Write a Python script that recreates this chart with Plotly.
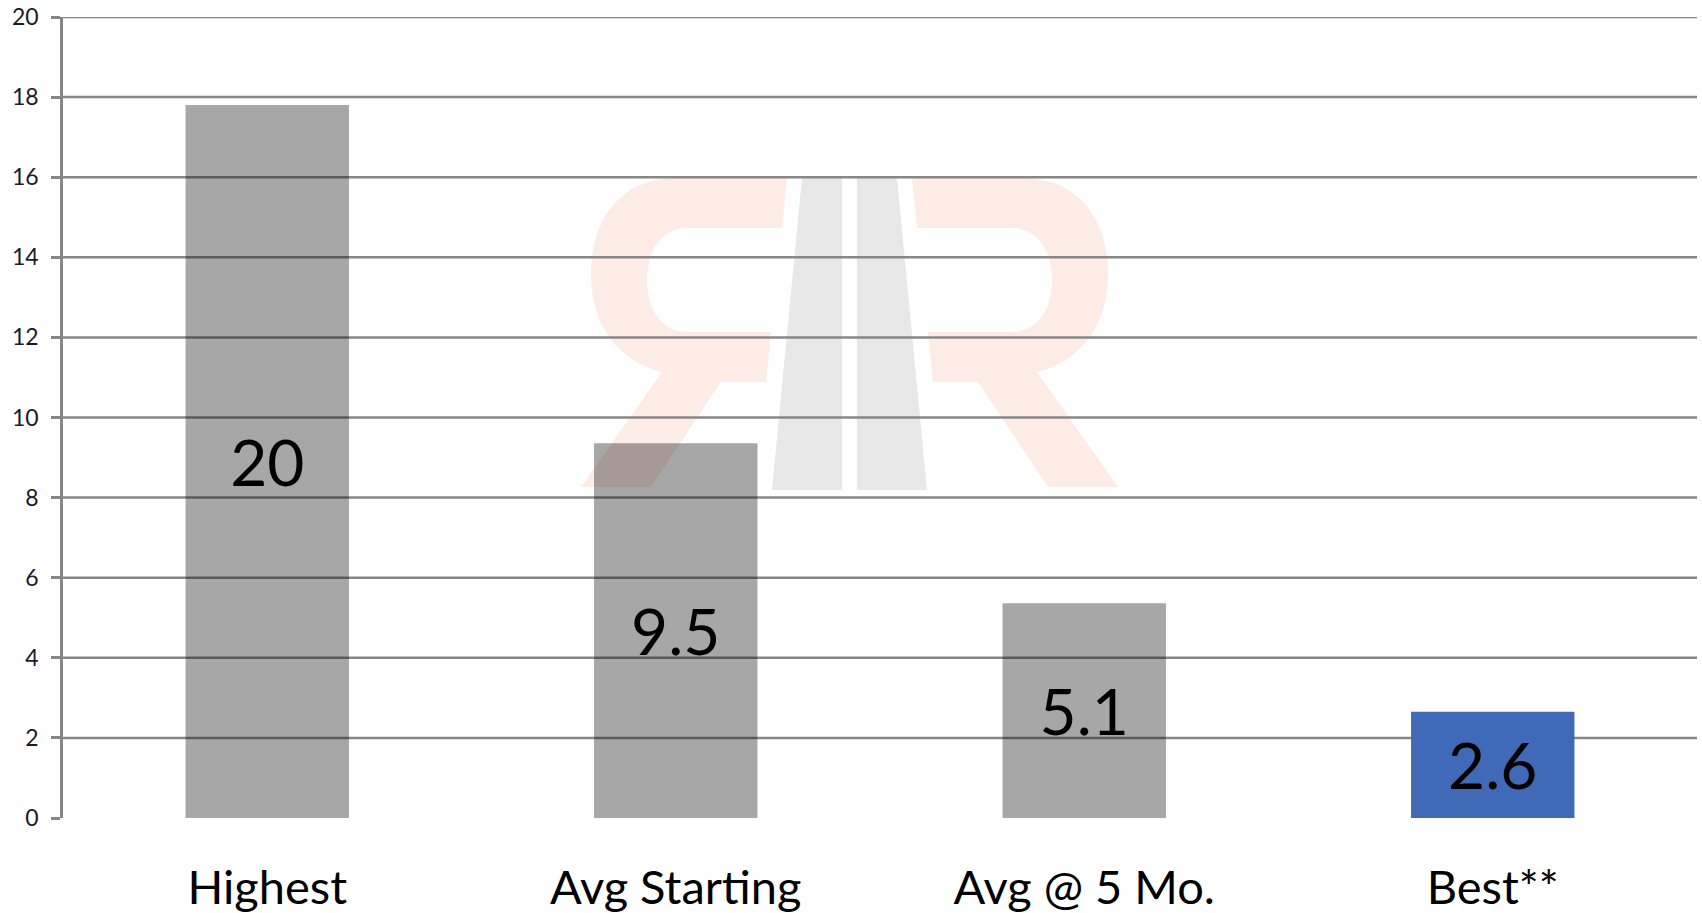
import plotly.graph_objects as go

categories = ["Highest", "Avg Starting", "Avg @ 5 Mo.", "Best**"]
bar_values = [17.8, 9.36, 5.36, 2.65]
bar_labels = ["20", "9.5", "5.1", "2.6"]
bar_colors = ["rgba(10,10,10,0.36)", "rgba(10,10,10,0.36)", "rgba(10,10,10,0.36)", "#4069b8"]
y_ticks = [0, 2, 4, 6, 8, 10, 12, 14, 16, 18, 20]

W, H = 1702, 913
ML, MR, MT, MB = 63, 5, 17, 95
PW, PH = W - ML - MR, H - MT - MB


def px_path(cmds):
    """Convert a path given in page pixels to paper coordinates."""
    out = []
    for c in cmds:
        if isinstance(c, str):
            out.append(c)
        else:
            x, y = c
            out.append(f"{(x - ML) / PW:.5f},{(H - MB - y) / PH:.5f}")
    return " ".join(out)


def mirror(cmds, cx=849.5):
    return [c if isinstance(c, str) else (2 * cx - c[0], c[1]) for c in cmds]


# watermark logo (decoration, page pixels)
right_r = ["M", (912, 178), "L", (1022, 178), "C", (1075, 178), (1108, 215), (1108, 275),
           "C", (1108, 325), (1080, 362), (1037, 372), "L", (1118, 487), "L", (1048, 487),
           "L", (978, 382), "L", (933, 382), "L", (928, 332), "L", (1012, 332),
           "C", (1037, 332), (1052, 310), (1052, 280), "C", (1052, 250), (1037, 228), (1012, 228),
           "L", (917, 228), "Z"]
left_lane = ["M", (802, 178), "L", (842, 178), "L", (842, 490), "L", (772, 490), "Z"]
right_lane = ["M", (857, 178), "L", (897, 178), "L", (927, 490), "L", (857, 490), "Z"]

fig = go.Figure()
fig.add_trace(go.Bar(
    x=categories, y=bar_values, text=bar_labels,
    marker=dict(color=bar_colors, line=dict(width=0)),
    textposition="inside", insidetextanchor="middle",
    textfont=dict(family="Lato", size=64, color="#000000"),
    constraintext="none", cliponaxis=False,
    hoverinfo="skip",
))

shapes = []
for p, col in [(right_r, "#fdebe6"), (mirror(right_r), "#fdebe6"),
               (left_lane, "#e8e8e8"), (right_lane, "#e8e8e8")]:
    shapes.append(dict(type="path", path=px_path(p), xref="paper", yref="paper",
                       fillcolor=col, line=dict(width=0), layer="below"))
for t in y_ticks[1:]:
    shapes.append(dict(type="line", xref="paper", yref="y", x0=0, x1=1, y0=t, y1=t,
                       line=dict(color="#878787", width=2.5), layer="between"))

fig.update_layout(
    width=W, height=H,
    margin=dict(l=ML, r=MR, t=MT, b=MB, autoexpand=False),
    paper_bgcolor="white", plot_bgcolor="white",
    showlegend=False, bargap=0.6,
    shapes=shapes,
    font=dict(family="Lato", color="#1a1a2a"),
)
fig.update_yaxes(
    range=[0, 20], tickvals=y_ticks, showgrid=False, zeroline=False,
    showline=True, linecolor="#878787", linewidth=2.5, automargin=False,
    ticks="outside", ticklen=9, tickwidth=2.5, tickcolor="#878787",
    tickfont=dict(family="Lato", size=23, color="#1a1a2a"),
    ticklabelstandoff=8,
)
fig.update_xaxes(
    showgrid=False, zeroline=False, showline=False, automargin=False,
    ticks="outside", ticklen=29, tickcolor="rgba(0,0,0,0)",
    tickfont=dict(family="Lato", size=47, color="#000000"),
)

fig.write_html("out.html", config={"displayModeBar": False},
               post_script="document.body.style.margin='0';document.body.style.overflow='hidden';")
